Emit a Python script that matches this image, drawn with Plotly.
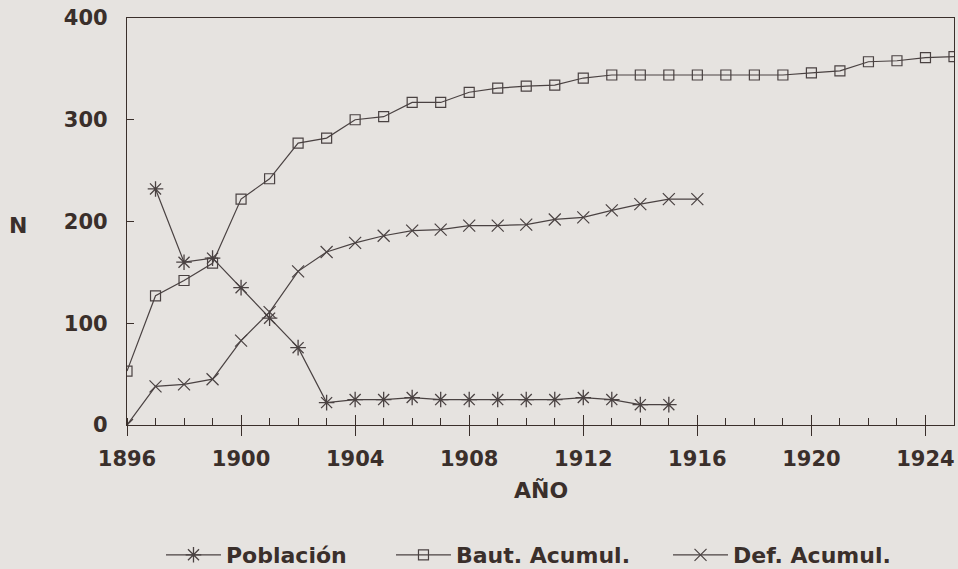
import plotly.graph_objects as go

poblacion_years = list(range(1897, 1916))
poblacion = [232, 160, 164, 135, 105, 76, 22, 25, 25, 27, 25, 25, 25, 25, 25, 27, 25, 20, 20]

baut_years = list(range(1896, 1926))
baut_acumul = [53, 127, 142, 159, 222, 242, 277, 282, 300, 303, 317, 317, 327, 331, 333,
               334, 341, 344, 344, 344, 344, 344, 344, 344, 346, 348, 357, 358, 361, 362]

def_years = list(range(1896, 1917))
def_acumul = [0, 38, 40, 45, 83, 111, 151, 170, 179, 186, 191, 192, 196, 196, 197,
              202, 204, 211, 217, 222, 222]

x_ticks = [1896, 1900, 1904, 1908, 1912, 1916, 1920, 1924]
y_ticks = [0, 100, 200, 300, 400]

BG = "#e6e3e0"
INK = "#3a2f2b"
LINE = "#4a4242"
FONT = "DejaVu Sans"

fig = go.Figure()

fig.add_trace(go.Scatter(
    x=poblacion_years, y=poblacion, name="Población", mode="lines+markers",
    line=dict(color=LINE, width=1.2),
    marker=dict(symbol="asterisk-open", size=13, line=dict(color=LINE, width=1.3)),
    legend="legend"))
fig.add_trace(go.Scatter(
    x=baut_years, y=baut_acumul, name="Baut. Acumul.", mode="lines+markers",
    line=dict(color=LINE, width=1.2),
    marker=dict(symbol="square-open", size=10, color=LINE, line=dict(color=LINE, width=1.2)),
    legend="legend2"))
fig.add_trace(go.Scatter(
    x=def_years, y=def_acumul, name="Def. Acumul.", mode="lines+markers",
    line=dict(color=LINE, width=1.2),
    marker=dict(symbol="x-thin-open", size=12, line=dict(color=LINE, width=1.2)),
    legend="legend3"))

# overlay axis for the upper half of the crossing major ticks
fig.add_trace(go.Scatter(x=[1896], y=[0], xaxis="x2", mode="markers",
                         marker=dict(opacity=0), showlegend=False, hoverinfo="skip"))

legend_common = dict(orientation="h", yref="container", yanchor="middle", y=0.0246,
                     xanchor="left", bgcolor="rgba(0,0,0,0)", itemwidth=55,
                     font=dict(family=FONT, size=22, color=INK, weight="bold"))

fig.update_layout(
    width=958, height=569,
    margin=dict(l=127, r=4, t=18, b=144, autoexpand=False),
    paper_bgcolor=BG, plot_bgcolor=BG,
    font=dict(family=FONT, color=INK, weight="bold"),
    legend=dict(x=0.0411, **legend_common),
    legend2=dict(x=0.3192, **legend_common),
    legend3=dict(x=0.6542, **legend_common),
    xaxis=dict(
        range=[1896, 1925], tickvals=x_ticks, ticktext=[str(v) for v in x_ticks],
        ticks="outside", ticklen=10, tickwidth=1.2, tickcolor=INK,
        minor=dict(dtick=1, tick0=1896, ticks="inside", ticklen=7, tickwidth=1.1, tickcolor=INK),
        showline=True, linecolor=INK, linewidth=1.3, mirror=True,
        showgrid=False, zeroline=False, ticklabelstandoff=5,
        tickfont=dict(family=FONT, size=21, color=INK, weight="bold"),
    ),
    xaxis2=dict(
        range=[1896, 1925], overlaying="x", anchor="y", side="bottom",
        tickvals=x_ticks, showticklabels=False,
        ticks="inside", ticklen=10, tickwidth=1.2, tickcolor=INK,
        showline=False, showgrid=False, zeroline=False,
    ),
    yaxis=dict(
        range=[0, 400], tickvals=y_ticks, ticks="inside", ticklen=7, tickwidth=1.2, tickcolor=INK,
        showline=True, linecolor=INK, linewidth=1.3, mirror=True,
        showgrid=False, zeroline=False, ticklabelstandoff=14,
        tickfont=dict(family=FONT, size=21, color=INK, weight="bold"),
    ),
    annotations=[
        dict(text="N", xref="paper", yref="paper", x=-0.1318, y=0.491,
             xanchor="center", yanchor="middle", showarrow=False,
             font=dict(family=FONT, size=22, color=INK, weight="bold")),
        dict(text="AÑO", xref="paper", yref="paper", x=0.5, y=-0.16,
             xanchor="center", yanchor="middle", showarrow=False,
             font=dict(family=FONT, size=22, color=INK, weight="bold")),
    ],
)

fig.write_html(
    "out.html",
    config={"displayModeBar": False},
    post_script="document.body.style.margin='0';document.body.style.background='%s';" % BG,
)
